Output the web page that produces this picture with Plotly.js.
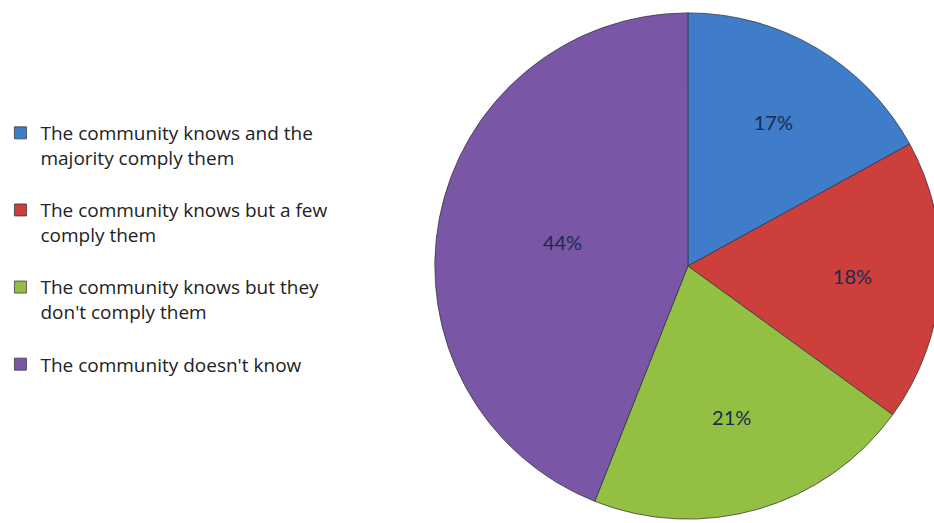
<!DOCTYPE html>
<html>
<head>
<meta charset="utf-8">
<script src="https://cdn.plot.ly/plotly-3.0.1.min.js"></script>
<style>
html,body{margin:0;padding:0;overflow:hidden;background:#fff;}
#chart{width:945px;height:523px;}
</style>
</head>
<body>
<div id="chart"></div>
<script>
const categories = [
  "The community knows and the<br>majority comply them<br> ",
  "The community knows but a few<br>comply them<br> ",
  "The community knows but they<br>don't comply them<br> ",
  "The community doesn't know"
];
const values = [17, 18, 21, 44];
const colors = ["#3F7DCB", "#CC3F3B", "#93C042", "#7A57A6"];

const trace = {
  type: "pie",
  labels: categories,
  values: values,
  sort: false,
  direction: "clockwise",
  rotation: 0,
  marker: {colors: colors, line: {color: "rgba(50,50,60,0.75)", width: 1}},
  textinfo: "percent",
  texttemplate: "%{percent:.0%}",
  textposition: "inside",
  insidetextorientation: "horizontal",
  textfont: {family: "Lato, 'Open Sans', sans-serif", size: 20, color: "#1B2A4E"},
  domain: {x: [431/945, 941/945], y: [2/523, 512/523]},
  hoverinfo: "percent"
};

const layout = {
  width: 945,
  height: 523,
  margin: {l: 0, r: 0, t: 0, b: 0},
  paper_bgcolor: "#ffffff",
  showlegend: true,
  legend: {
    x: -0.007, y: 1 - 114/523, xanchor: "left", yanchor: "top",
    valign: "top",
    font: {family: "'Open Sans', Lato, sans-serif", size: 19, color: "#222222"},
    bgcolor: "rgba(0,0,0,0)",
    itemclick: false
  }
};

Plotly.newPlot("chart", [trace], layout, {displayModeBar: false, staticPlot: true});
</script>
</body>
</html>
